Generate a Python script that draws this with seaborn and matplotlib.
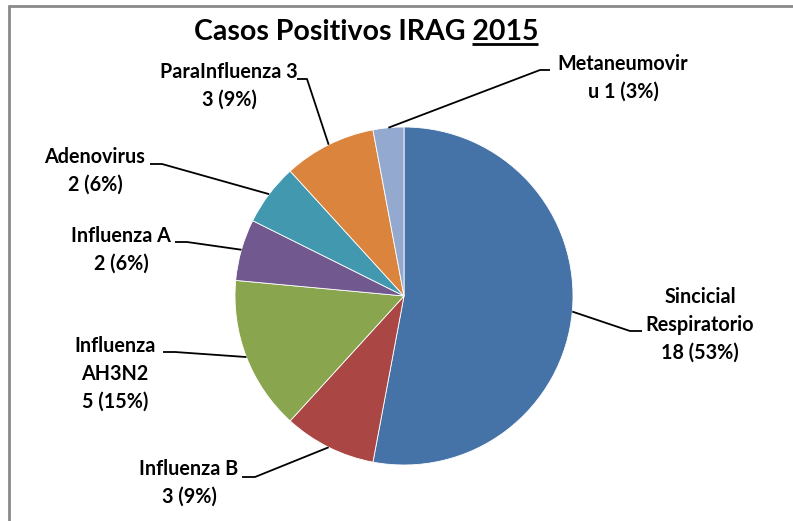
import numpy as np
import matplotlib
matplotlib.use("Agg")
import matplotlib.pyplot as plt
import seaborn as sns

# datos del grafico
virus = ['Sincicial\nRespiratorio', 'Influenza B', 'Influenza\nAH3N2', 'Influenza A',
         'Adenovirus', 'ParaInfluenza 3', 'Metaneumovir\nu']
casos = [18, 3, 5, 2, 2, 3, 1]
sep = ['\n', '\n', '\n', '\n', '\n', '\n', ' ']
colores = ['#4572A7', '#AA4643', '#89A54E', '#71588F', '#4198AF', '#DB843D', '#93A9CF']

# posicion de etiquetas (px, origen arriba-izq) y lineas guia: fin en texto, quiebre
label_xy = [(700, 325), (189, 483), (115, 374), (121, 250), (95, 171), (229, 86), (623, 78)]
leader = [(642, 630, 331), (242, 255, 477), (163, 175, 352), (175, 187, 242),
          (150, 162, 164), (297, 307, 79), (550, 540, 70)]

W, H = 793, 521
cx, cy, R = 404, 296, 169

sns.set_theme(style='white')
plt.rcParams['font.family'] = ['Lato', 'DejaVu Sans']

fig = plt.figure(figsize=(W / 100, H / 100), dpi=100)
ax = fig.add_axes([0, 0, 1, 1])

wedges, _ = ax.pie(casos, colors=colores, startangle=90, counterclock=False,
                   center=(cx, H - cy), radius=R,
                   wedgeprops=dict(edgecolor='white', linewidth=0.6))
ax.set_xlim(0, W)
ax.set_ylim(0, H)
ax.set_aspect('equal')
ax.axis('off')

total = sum(casos)
for w, name, n, s, (tx, ty), (ex, kx, ly) in zip(wedges, virus, casos, sep, label_xy, leader):
    pct = round(100 * n / total)
    ax.text(tx, H - ty, f'{name}{s}{n} ({pct}%)', ha='center', va='center',
            fontsize=14.2, fontweight='bold', linespacing=1.5, color='black')
    mid = np.deg2rad((w.theta1 + w.theta2) / 2)
    px = cx + R * np.cos(mid)
    py = (H - cy) + R * np.sin(mid)
    ax.plot([px, kx, ex], [py, H - ly, H - ly], color='black', lw=1.3,
            solid_capstyle='butt', zorder=5)

# titulo con 2015 subrayado
title = ax.text(366, H - 32, 'Casos Positivos IRAG 2015', ha='center', va='center',
                fontsize=20.5, fontweight='bold', color='black')
fig.canvas.draw()
renderer = fig.canvas.get_renderer()
bb = title.get_window_extent(renderer)
tmp = ax.text(0, 0, '2015', fontsize=20.5, fontweight='bold')
w2015 = tmp.get_window_extent(renderer).width
tmp.remove()
uy = bb.y0 + 1
ax.plot([bb.x1 - w2015, bb.x1], [uy, uy], color='black', lw=2, solid_capstyle='butt')

# borde gris del area del grafico
fig.add_artist(plt.Line2D([9 / W, 1], [1 - 6 / H, 1 - 6 / H], transform=fig.transFigure,
                          color='#8a8a8a', lw=2))
fig.add_artist(plt.Line2D([9 / W, 9 / W], [0, 1 - 6 / H], transform=fig.transFigure,
                          color='#8a8a8a', lw=2))

fig.savefig('out.png', dpi=100)
